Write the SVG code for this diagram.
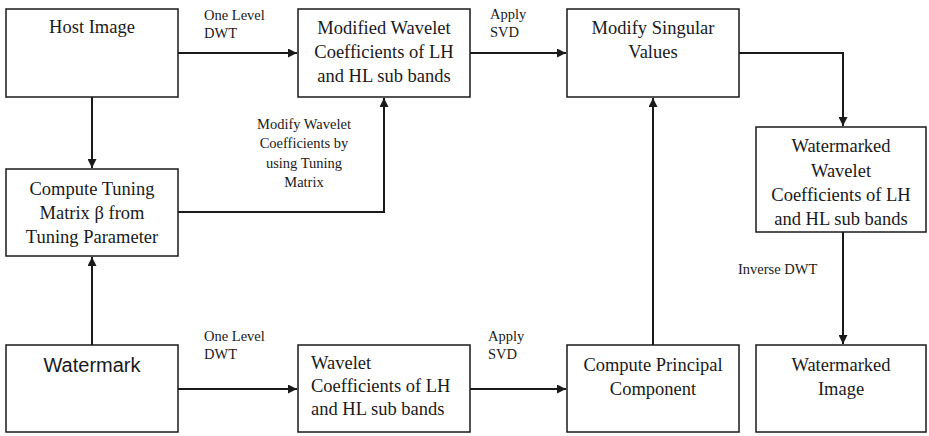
<svg xmlns="http://www.w3.org/2000/svg" width="929" height="436" viewBox="0 0 929 436">
  <style>
    .box { fill: #ffffff; stroke: #1a1a1a; stroke-width: 1.5; }
    .t { font-family: "Liberation Serif", "Times New Roman", serif; font-size: 18.5px; fill: #1a1a1a; text-anchor: middle; }
    .ts { font-family: "Liberation Sans", Arial, sans-serif; font-size: 20px; fill: #1a1a1a; text-anchor: middle; }
    .lbl { font-family: "Liberation Serif", "Times New Roman", serif; font-size: 14.5px; fill: #1a1a1a; }
    .c { fill: none; stroke: #1a1a1a; stroke-width: 2; }
  </style>
  <defs>
    <marker id="arr" viewBox="0 0 10 10" refX="10" refY="5" markerWidth="10" markerHeight="9" markerUnits="userSpaceOnUse" orient="auto">
      <path d="M0,0 L10,5 L0,10 Z" fill="#1a1a1a"/>
    </marker>
  </defs>
  <rect width="929" height="436" fill="#ffffff"/>

  <g id="host-image">
    <rect class="box" x="6" y="9" width="172" height="88"/>
    <text class="t" x="92" y="33">Host Image</text>
  </g>
  <g id="modified-coefficients">
    <rect class="box" x="298" y="9" width="172" height="88"/>
    <text class="t" x="384" y="34">Modified Wavelet</text>
    <text class="t" x="384" y="58">Coefficients of LH</text>
    <text class="t" x="384" y="82">and HL sub bands</text>
  </g>
  <g id="modify-singular">
    <rect class="box" x="567" y="9" width="172" height="88"/>
    <text class="t" x="653" y="34">Modify Singular</text>
    <text class="t" x="653" y="58">Values</text>
  </g>
  <g id="tuning-matrix">
    <rect class="box" x="6" y="169" width="172" height="87"/>
    <text class="t" x="92" y="195">Compute Tuning</text>
    <text class="t" x="92" y="219">Matrix β from</text>
    <text class="t" x="92" y="243">Tuning Parameter</text>
  </g>
  <g id="watermarked-coefficients">
    <rect class="box" x="756" y="127" width="170" height="105"/>
    <text class="t" x="841" y="152">Watermarked</text>
    <text class="t" x="841" y="177">Wavelet</text>
    <text class="t" x="841" y="201">Coefficients of LH</text>
    <text class="t" x="841" y="225">and HL sub bands</text>
  </g>
  <g id="watermark">
    <rect class="box" x="6" y="345" width="172" height="87"/>
    <text class="ts" x="92" y="372">Watermark</text>
  </g>
  <g id="wavelet-coefficients">
    <rect class="box" x="298" y="345" width="172" height="87"/>
    <text class="t" x="311" y="369" style="text-anchor:start">Wavelet</text>
    <text class="t" x="311" y="392" style="text-anchor:start">Coefficients of LH</text>
    <text class="t" x="311" y="415" style="text-anchor:start">and HL sub bands</text>
  </g>
  <g id="principal-component">
    <rect class="box" x="567" y="345" width="172" height="87"/>
    <text class="t" x="653" y="371">Compute Principal</text>
    <text class="t" x="653" y="395">Component</text>
  </g>
  <g id="watermarked-image">
    <rect class="box" x="756" y="345" width="170" height="87"/>
    <text class="t" x="841" y="371">Watermarked</text>
    <text class="t" x="841" y="395">Image</text>
  </g>

  <g id="connectors">
    <path class="c" d="M178,53 H297" marker-end="url(#arr)"/>
    <path class="c" d="M470,53 H566" marker-end="url(#arr)"/>
    <path class="c" d="M739,53 H843 V126" marker-end="url(#arr)"/>
    <path class="c" d="M92,97 V168" marker-end="url(#arr)"/>
    <path class="c" d="M178,212 H384 V98" marker-end="url(#arr)"/>
    <path class="c" d="M92,345 V257" marker-end="url(#arr)"/>
    <path class="c" d="M178,389 H297" marker-end="url(#arr)"/>
    <path class="c" d="M470,389 H566" marker-end="url(#arr)"/>
    <path class="c" d="M653,345 V98" marker-end="url(#arr)"/>
    <path class="c" d="M843,232 V344" marker-end="url(#arr)"/>
  </g>

  <g id="labels">
    <text class="lbl" x="204" y="20">One Level</text>
    <text class="lbl" x="204" y="38">DWT</text>
    <text class="lbl" x="490" y="19">Apply</text>
    <text class="lbl" x="490" y="37">SVD</text>
    <text class="lbl" x="304" y="129" style="text-anchor:middle">Modify Wavelet</text>
    <text class="lbl" x="304" y="148" style="text-anchor:middle">Coefficients by</text>
    <text class="lbl" x="304" y="168" style="text-anchor:middle">using Tuning</text>
    <text class="lbl" x="304" y="187" style="text-anchor:middle">Matrix</text>
    <text class="lbl" x="738" y="274">Inverse DWT</text>
    <text class="lbl" x="204" y="341">One Level</text>
    <text class="lbl" x="204" y="359">DWT</text>
    <text class="lbl" x="488" y="341">Apply</text>
    <text class="lbl" x="488" y="359">SVD</text>
  </g>
</svg>
